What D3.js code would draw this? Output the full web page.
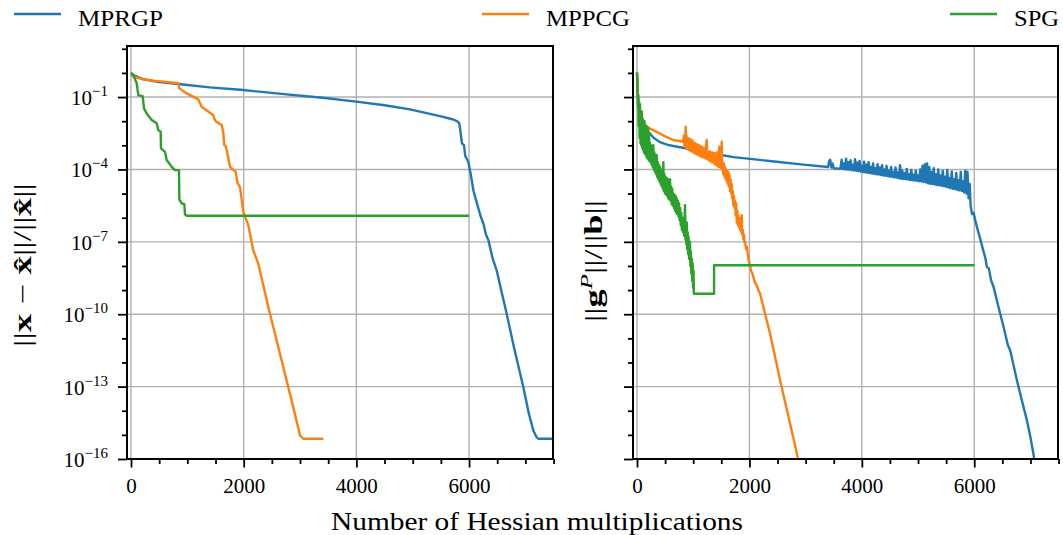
<!DOCTYPE html>
<html><head><meta charset="utf-8">
<script src="https://cdn.jsdelivr.net/npm/d3@7"></script>
<style>body{margin:0;background:#fff}</style></head>
<body>
<svg id="c" width="1063" height="535"></svg>
<script>
// ---------- DATA (x = Hessian multiplications, value = log10 of y) ----------
const seriesNames = ["MPRGP", "MPPCG", "SPG"];
const seriesColors = ["#1f77b4", "#ff7f0e", "#2ca02c"];
const xMajorTicks = [0, 2000, 4000, 6000];
const yLabelExponents = [-16, -13, -10, -7, -4, -1];

// Left panel: ||x - x^||/||x^||
const errMPRGP = [[0,-0.05],[200,-0.25],[500,-0.38],[840,-0.46],[1400,-0.6],[1993,-0.71],[2763,-0.89],[3400,-1.03],[4000,-1.19],[4500,-1.34],[4951,-1.51],[5484,-1.79],[5720,-1.93],[5800,-2.02],[5826,-2.09],[5840,-2.3],[5856,-2.58],[5874,-2.92],[5910,-2.99],[5933,-3.45],[5987,-3.68],[6030,-4.2],[6076,-4.86],[6124,-5.27],[6200,-5.9],[6254,-6.24],[6300,-6.7],[6343,-6.93],[6420,-7.7],[6490,-8.18],[6580,-9.1],[6668,-9.98],[6800,-11.4],[6963,-13.02],[7060,-14.1],[7140,-14.82],[7200,-15.1],[7228,-15.16],[7600,-15.16]];
const errMPPCG = [[0,-0.05],[41,-0.16],[200,-0.25],[396,-0.32],[840,-0.43],[858,-0.64],[988,-0.85],[1100,-0.98],[1195,-1.10],[1254,-1.40],[1461,-1.75],[1480,-1.9],[1503,-2.0],[1609,-2.16],[1640,-2.5],[1656,-2.99],[1686,-3.05],[1757,-3.89],[1858,-4.10],[1893,-4.58],[1935,-4.73],[1993,-5.76],[2082,-6.31],[2170,-7.35],[2259,-7.90],[2437,-9.70],[2644,-11.64],[2880,-13.85],[2999,-15.02],[3058,-15.16],[3413,-15.16]];
const errSPG = [[0,0.02],[41,-0.09],[101,-0.43],[130,-0.92],[207,-0.96],[231,-1.47],[278,-1.68],[367,-1.95],[456,-2.09],[485,-2.37],[527,-2.44],[532,-3.13],[603,-3.27],[633,-3.61],[722,-3.89],[781,-4.03],[852,-4.03],[858,-5.25],[900,-5.41],[947,-5.44],[958,-5.86],[988,-5.92],[6000,-5.92]];

// Right panel: ||g^P||/||b||
const gradMPRGP = [[0,0.02],[15,-0.9],[30,-1.3],[53,-1.6],[100,-2.0],[150,-2.25],[202,-2.44],[300,-2.7],[420,-2.88],[550,-2.98],[647,-3.03],[884,-3.13],[1200,-3.27],[1500,-3.4],[1715,-3.49],[2012,-3.56],[2400,-3.66],[2961,-3.8],[3400,-3.9],[3420,-3.65],[3436,-3.6],[3460,-3.92],[3480,-3.75],[3500,-3.95],[3600,-3.97],
[3620,-3.97],[3640,-3.60],[3660,-3.98],[3680,-3.75],[3700,-4.0],[3720,-3.55],[3740,-4.0],[3760,-3.7],[3780,-4.02],[3800,-3.62],[3820,-4.03],[3840,-3.8],[3860,-4.04],[3880,-3.58],[3900,-4.06],[3920,-3.72],[3940,-4.07],[3960,-3.65],[3980,-4.09],[4000,-3.85],[4020,-4.11],[4040,-3.68],[4060,-4.12],[4080,-3.8],[4100,-4.14],[4120,-3.7],[4140,-4.15],[4160,-3.9],[4180,-4.17],[4200,-3.75],[4220,-4.18],[4240,-3.95],[4260,-4.2],[4280,-3.78],[4300,-4.21],[4320,-3.92],[4340,-4.23],[4360,-3.82],[4380,-4.25],[4400,-4.0],[4420,-4.26],[4440,-3.85],[4460,-4.28],[4480,-4.05],[4500,-4.3],[4520,-3.9],[4540,-4.31],[4560,-4.1],[4580,-4.33],[4600,-3.92],[4620,-4.34],[4640,-4.12],[4660,-4.37],[4680,-3.82],[4700,-4.39],[4720,-4.05],[4740,-4.4],[4760,-4.15],[4780,-4.41],[4800,-3.98],[4820,-4.42],[4840,-4.2],[4860,-4.44],[4880,-4.02],[4900,-4.45],[4920,-4.22],[4940,-4.46],[4960,-4.05],[4980,-4.47],[5000,-4.25],[5020,-4.49],[5040,-4.0],[5060,-4.5],[5080,-3.85],[5100,-4.52],[5120,-3.78],[5140,-4.54],[5160,-3.75],[5180,-4.58],[5200,-3.9],[5220,-4.6],[5240,-4.1],[5260,-4.61],[5280,-3.95],[5300,-4.63],[5320,-4.2],[5340,-4.65],[5360,-4.0],[5380,-4.66],[5400,-4.25],[5420,-4.68],[5440,-4.05],[5460,-4.7],[5480,-4.3],[5500,-4.72],[5520,-4.02],[5540,-4.75],[5560,-4.35],[5580,-4.78],[5600,-4.08],[5620,-4.8],[5640,-4.4],[5660,-4.82],[5680,-4.15],[5700,-4.85],[5720,-4.45],[5740,-4.87],[5760,-4.1],[5780,-4.9],[5800,-4.5],[5820,-4.95],[5840,-4.05],[5860,-5.0],[5880,-4.1],[5900,-5.2],[5920,-4.6],[5935,-5.5],[5960,-5.85],[5990,-5.8],[6017,-6.1],[6050,-6.4],[6120,-7.0],[6200,-7.7],[6225,-8.04],[6260,-8.1],[6300,-8.6],[6344,-8.87],[6420,-9.6],[6522,-10.53],[6600,-11.3],[6640,-11.5],[6759,-12.74],[6850,-13.6],[6937,-14.4],[7000,-15.1],[7073,-16.06]];
const gradMPPCG = [[0,0.02],[15,-0.9],[40,-1.6],[80,-1.95],[142,-2.16],[250,-2.33],[350,-2.44],[500,-2.63],[647,-2.78],[824,-2.85],[832,-2.6],[840,-3.0],[848,-2.7],[856,-3.05],[866,-2.23],[874,-3.1],[882,-2.6],[890,-3.1],[898,-2.75],[906,-3.15],[914,-2.7],[922,-3.2],[930,-2.85],[940,-3.2],[950,-2.75],[960,-3.25],[970,-2.9],[980,-3.25],[990,-2.8],[1000,-3.3],[1010,-2.95],[1020,-3.3],[1030,-2.9],[1040,-3.35],[1050,-3.0],[1060,-3.35],[1070,-2.95],[1080,-3.4],[1090,-3.05],[1100,-3.4],[1110,-3.0],[1120,-3.45],[1130,-3.1],[1140,-3.45],[1150,-3.05],[1160,-3.5],[1170,-3.15],[1180,-3.5],[1190,-3.1],[1200,-3.5],[1210,-3.2],[1220,-3.55],[1230,-3.0],[1241,-2.78],[1250,-3.55],[1260,-3.25],[1270,-3.6],[1280,-3.3],[1290,-3.65],[1300,-3.25],[1310,-3.65],[1320,-3.35],[1330,-3.7],[1340,-3.3],[1350,-3.7],[1360,-3.4],[1370,-3.75],[1380,-3.35],[1390,-3.8],[1400,-3.45],[1410,-3.8],[1420,-3.3],[1430,-3.85],[1440,-3.5],[1450,-3.9],[1460,-3.2],[1467,-3.06],[1475,-3.9],[1485,-3.5],[1495,-3.95],[1507,-2.85],[1515,-4.0],[1525,-3.7],[1535,-4.2],[1545,-3.75],[1555,-4.3],[1565,-3.9],[1575,-4.4],[1585,-4.0],[1595,-4.5],[1605,-4.05],[1615,-4.6],[1625,-4.1],[1635,-4.7],[1645,-4.2],[1655,-4.9],[1665,-4.4],[1675,-5.0],[1685,-4.6],[1695,-5.2],[1705,-4.9],[1715,-5.5],[1725,-5.1],[1735,-5.6],[1745,-5.3],[1755,-5.9],[1765,-5.4],[1775,-6.2],[1785,-5.7],[1795,-6.3],[1805,-5.9],[1815,-6.4],[1825,-6.0],[1835,-6.5],[1845,-6.2],[1855,-6.6],[1864,-5.9],[1872,-6.7],[1882,-6.5],[1892,-6.9],[1902,-6.7],[1912,-7.0],[1923,-7.0],[1940,-7.3],[1955,-7.2],[1970,-7.5],[1990,-7.8],[2012,-8.0],[2030,-8.2],[2050,-8.3],[2071,-8.46],[2100,-8.7],[2130,-8.8],[2160,-9.0],[2190,-9.15],[2368,-10.81],[2546,-12.74],[2724,-14.54],[2872,-16.06]];
const gradSPG = [[0,0.02],[8,-0.5],[15,-1.4],[22,-0.9],[30,-2.2],[38,-1.2],[46,-2.7],[54,-1.3],[62,-2.9],[70,-1.7],[78,-3.0],[86,-1.6],[94,-3.1],[102,-1.9],[110,-3.2],[118,-2.1],[126,-3.3],[134,-2.0],[142,-3.35],[150,-2.4],[158,-3.4],[166,-2.2],[174,-3.5],[182,-2.6],[190,-3.55],[198,-2.3],[206,-3.6],[214,-2.5],[222,-3.65],[230,-2.9],[240,-3.7],[250,-3.0],[260,-3.8],[270,-3.1],[280,-3.9],[290,-3.0],[300,-4.0],[310,-3.3],[320,-4.1],[330,-3.5],[340,-4.2],[350,-3.4],[360,-4.3],[370,-3.7],[380,-4.4],[390,-3.8],[400,-4.5],[410,-3.9],[420,-4.6],[430,-4.0],[440,-4.7],[450,-4.1],[460,-4.8],[469,-3.7],[478,-4.9],[488,-4.2],[498,-5.0],[508,-4.3],[518,-5.05],[528,-4.35],[538,-5.1],[548,-4.4],[558,-5.2],[568,-4.5],[578,-5.25],[588,-4.4],[598,-5.3],[608,-4.7],[618,-5.45],[628,-4.8],[638,-5.5],[648,-5.0],[658,-5.6],[668,-5.05],[678,-5.7],[688,-5.1],[698,-5.8],[708,-5.2],[718,-5.85],[728,-5.3],[738,-5.95],[748,-5.4],[758,-6.1],[768,-5.6],[778,-6.3],[788,-5.8],[798,-6.5],[808,-6.0],[818,-6.6],[828,-6.1],[838,-6.75],[848,-5.9],[855,-5.48],[862,-6.9],[870,-6.3],[878,-7.1],[886,-6.2],[894,-7.3],[902,-6.6],[910,-7.5],[918,-6.8],[926,-7.7],[934,-7.2],[943,-7.0],[950,-8.0],[958,-7.4],[966,-8.3],[974,-7.7],[982,-8.6],[990,-7.9],[998,-8.9],[1006,-8.2],[1012,-9.15],[1371,-9.15],[1371,-7.97],[6000,-7.97]];

// ---------- LAYOUT ----------
const svg = d3.select("#c");
const FONT = "'Liberation Serif','DejaVu Serif',serif";
const yDomain = [1e-16, Math.pow(10, 1.116)];
const panels = [
  {x0:127, x1:553, series:[errMPRGP, errMPPCG, errSPG], labels:true},
  {x0:633, x1:1058, series:[gradMPRGP, gradMPPCG, gradSPG], labels:false}
];
const yTop = 46, yBot = 459;
const y = d3.scaleLog().domain(yDomain).range([yBot, yTop]);
const decades = d3.range(-16, 2).map(e => Math.pow(10, e));
const majorY = yLabelExponents.map(e => Math.pow(10, e));
const minorY = decades.filter(v => !majorY.some(m => Math.abs(Math.log10(m) - Math.log10(v)) < 1e-9));
const minorX = d3.range(0, 7501, 500).filter(v => !xMajorTicks.includes(v));

panels.forEach((p, pi) => {
  const x = d3.scaleLinear().domain([-71, 7490]).range([p.x0, p.x1]);
  const g = svg.append("g");
  const clipId = "clip" + pi;
  svg.append("defs").append("clipPath").attr("id", clipId)
    .append("rect").attr("x", p.x0).attr("y", yTop).attr("width", p.x1 - p.x0).attr("height", yBot - yTop);

  // grid
  g.append("g").selectAll("line").data(xMajorTicks).join("line")
    .attr("x1", d => x(d)).attr("x2", d => x(d)).attr("y1", yTop).attr("y2", yBot)
    .attr("stroke", "#b0b0b0").attr("stroke-width", 1.4);
  g.append("g").selectAll("line").data(majorY).join("line")
    .attr("x1", p.x0).attr("x2", p.x1).attr("y1", d => y(d)).attr("y2", d => y(d))
    .attr("stroke", "#b0b0b0").attr("stroke-width", 1.4);

  // lines
  const line = d3.line().x(d => x(d[0])).y(d => y(Math.pow(10, d[1])));
  const lg = g.append("g").attr("clip-path", `url(#${clipId})`);
  p.series.forEach((s, si) => {
    lg.append("path").attr("d", line(s)).attr("fill", "none")
      .attr("stroke", seriesColors[si]).attr("stroke-width", 2.4)
      .attr("stroke-linejoin", "round").attr("stroke-linecap", "butt");
  });

  // axes
  const xAxisMaj = d3.axisBottom(x).tickValues(xMajorTicks).tickSize(8.5).tickPadding(6)
    .tickFormat(d3.format("d"));
  const xAxisMin = d3.axisBottom(x).tickValues(minorX).tickSize(5).tickFormat("");
  const yAxisMaj = d3.axisLeft(y).tickValues(majorY).tickSize(9).tickFormat("");
  const yAxisMin = d3.axisLeft(y).tickValues(minorY).tickSize(5).tickFormat("");
  [[xAxisMaj, `translate(0,${yBot})`], [xAxisMin, `translate(0,${yBot})`],
   [yAxisMaj, `translate(${p.x0},0)`], [yAxisMin, `translate(${p.x0},0)`]].forEach(([ax, tr]) => {
    const a = g.append("g").attr("transform", tr).call(ax);
    a.select(".domain").remove();
    a.selectAll(".tick line").attr("stroke", "#000").attr("stroke-width", 1.8);
    a.selectAll(".tick text").attr("font-family", FONT).attr("font-size", 21).attr("fill", "#000");
  });
  g.selectAll(".tick text").attr("dy", "0.95em");

  // y labels (left panel only)
  if (p.labels) {
    yLabelExponents.forEach(e => {
      const t = g.append("text").attr("x", p.x0 - 19).attr("y", y(Math.pow(10, e)) + 8)
        .attr("text-anchor", "end").attr("font-family", FONT).attr("font-size", 21).attr("fill", "#000");
      t.append("tspan").text("10");
      t.append("tspan").attr("dy", -9).attr("font-size", 15).text("\u2212" + Math.abs(e));
    });
  }

  // frame
  g.append("rect").attr("x", p.x0).attr("y", yTop).attr("width", p.x1 - p.x0).attr("height", yBot - yTop)
    .attr("fill", "none").attr("stroke", "#000").attr("stroke-width", 2);
});

// axis titles
svg.append("text").attr("x", 537).attr("y", 530).attr("text-anchor", "middle")
  .attr("font-family", FONT).attr("font-size", 26).attr("textLength", 412).attr("lengthAdjust", "spacingAndGlyphs")
  .text("Number of Hessian multiplications");

const yl = svg.append("text").attr("transform", "translate(31,265) rotate(-90)").attr("text-anchor", "middle")
  .attr("font-family", FONT).attr("font-size", 25).attr("textLength", 164).attr("lengthAdjust", "spacingAndGlyphs");
yl.append("tspan").text("||");
yl.append("tspan").attr("font-weight", "bold").text("x");
yl.append("tspan").text(" \u2212 ");
yl.append("tspan").attr("font-weight", "bold").text("x\u0302");
yl.append("tspan").text("||/||");
yl.append("tspan").attr("font-weight", "bold").text("x\u0302");
yl.append("tspan").text("||");

const yr = svg.append("text").attr("transform", "translate(602,261) rotate(-90)").attr("text-anchor", "middle")
  .attr("font-family", FONT).attr("font-size", 25).attr("textLength", 122).attr("lengthAdjust", "spacingAndGlyphs");
yr.append("tspan").text("||");
yr.append("tspan").attr("font-weight", "bold").text("g");
yr.append("tspan").attr("font-style", "italic").attr("font-size", 17).attr("dy", -10).text("P");
yr.append("tspan").attr("dy", 10).text("||/||");
yr.append("tspan").attr("font-weight", "bold").text("b");
yr.append("tspan").text("||");

// legend
const legendX = [14, 482, 950];
const legendW = [85, 84, 45];
seriesNames.forEach((n, i) => {
  svg.append("line").attr("x1", legendX[i]).attr("x2", legendX[i] + 47).attr("y1", 14).attr("y2", 14)
    .attr("stroke", seriesColors[i]).attr("stroke-width", 2.4);
  svg.append("text").attr("x", legendX[i] + 64).attr("y", 26).attr("font-family", FONT).attr("font-size", 23)
    .attr("textLength", legendW[i]).attr("lengthAdjust", "spacingAndGlyphs").text(n);
});
</script>
</body></html>
